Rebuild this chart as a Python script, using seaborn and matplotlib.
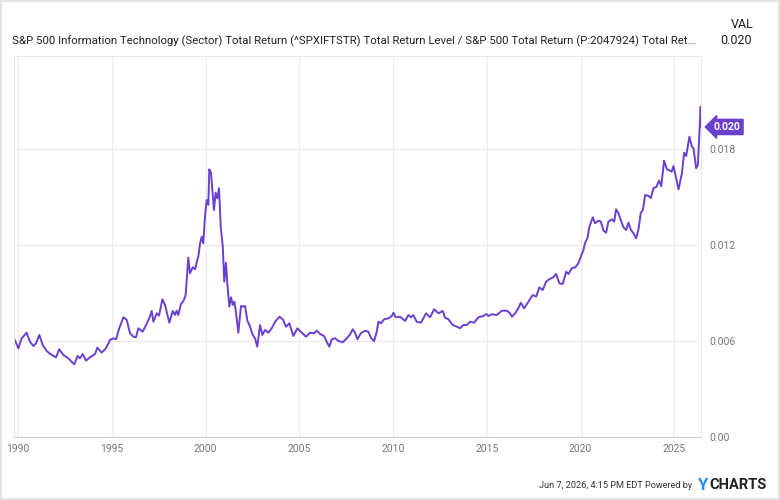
import pandas as pd
import seaborn as sns
import matplotlib.pyplot as plt
from matplotlib import transforms

# ratio IT sector TR / S&P 500 TR (x1e-3)
years = [1989.79, 1990.02, 1990.20, 1990.46, 1990.64, 1990.82, 1990.96, 1991.14, 1991.32, 1991.53,
         1991.80, 1992.03, 1992.20, 1992.42, 1992.68, 1993.00, 1993.18, 1993.31, 1993.45, 1993.63,
         1993.84, 1994.11, 1994.23, 1994.46, 1994.69, 1994.91, 1995.08, 1995.23, 1995.40, 1995.62,
         1995.80, 1995.97, 1996.15, 1996.29, 1996.42, 1996.65, 1996.83, 1997.00, 1997.13, 1997.22,
         1997.40, 1997.52, 1997.70, 1997.84, 1998.07, 1998.25, 1998.37, 1998.46, 1998.55, 1998.69,
         1998.82, 1998.94, 1999.08, 1999.17, 1999.32, 1999.44, 1999.62, 1999.71, 1999.80, 1999.88,
         1999.97, 2000.06, 2000.15, 2000.20, 2000.29, 2000.38, 2000.45, 2000.54, 2000.63, 2000.72,
         2000.81, 2000.92, 2001.00, 2001.09, 2001.16, 2001.27, 2001.36, 2001.45, 2001.54, 2001.63,
         2001.75, 2001.89, 2002.02, 2002.11, 2002.23, 2002.34, 2002.52, 2002.64, 2002.76, 2002.91,
         2003.03, 2003.17, 2003.35, 2003.53, 2003.71, 2003.94, 2004.12, 2004.29, 2004.47, 2004.68,
         2004.90, 2005.13, 2005.36, 2005.57, 2005.79, 2005.93, 2006.11, 2006.32, 2006.46, 2006.60,
         2006.73, 2006.91, 2007.08, 2007.32, 2007.53, 2007.71, 2007.85, 2007.97, 2008.10, 2008.28,
         2008.51, 2008.68, 2008.83, 2008.99, 2009.13, 2009.22, 2009.36, 2009.52, 2009.75, 2009.93,
         2010.02, 2010.14, 2010.37, 2010.64, 2010.82, 2010.96, 2011.08, 2011.26, 2011.49, 2011.76,
         2011.97, 2012.19, 2012.42, 2012.65, 2012.77, 2012.95, 2013.18, 2013.40, 2013.57, 2013.75,
         2013.93, 2014.11, 2014.32, 2014.55, 2014.82, 2014.96, 2015.08, 2015.26, 2015.53, 2015.80,
         2016.06, 2016.24, 2016.33, 2016.51, 2016.68, 2016.81, 2016.99, 2017.22, 2017.45, 2017.63,
         2017.80, 2017.98, 2018.16, 2018.34, 2018.55, 2018.69, 2018.87, 2019.05, 2019.23, 2019.35,
         2019.53, 2019.71, 2019.88, 2020.01, 2020.15, 2020.24, 2020.36, 2020.47, 2020.65, 2020.77,
         2020.95, 2021.08, 2021.22, 2021.36, 2021.48, 2021.66, 2021.79, 2021.89, 2022.02, 2022.14,
         2022.28, 2022.43, 2022.55, 2022.68, 2022.82, 2022.96, 2023.08, 2023.21, 2023.32, 2023.44,
         2023.62, 2023.74, 2023.89, 2024.04, 2024.18, 2024.30, 2024.45, 2024.60, 2024.77, 2024.86,
         2024.95, 2025.09, 2025.22, 2025.40, 2025.52, 2025.63, 2025.80, 2025.93, 2026.02, 2026.16,
         2026.25, 2026.40, 2026.43]
ratio = [6.169, 5.544, 6.169, 6.519, 5.956, 5.688, 5.856, 6.375, 5.750, 5.375,
         5.125, 4.981, 5.481, 5.125, 4.919, 4.544, 5.063, 4.919, 5.188, 4.769,
         4.981, 5.188, 5.581, 5.269, 5.544, 6.063, 6.169, 6.106, 6.794, 7.481,
         7.313, 6.500, 6.269, 6.231, 6.794, 6.581, 7.000, 7.419, 7.875, 7.206,
         7.731, 7.581, 8.606, 8.250, 7.144, 7.875, 7.625, 7.894, 7.625, 8.313,
         8.500, 8.875, 11.206, 10.231, 10.606, 10.481, 11.313, 12.106, 12.519, 12.106,
         13.769, 14.813, 14.500, 16.731, 16.519, 15.231, 14.188, 15.269, 14.919, 15.544,
         13.144, 11.894, 9.706, 10.894, 9.606, 8.144, 8.731, 8.250, 8.456, 7.731,
         6.519, 8.188, 8.144, 8.188, 7.269, 7.000, 6.375, 6.169, 5.644, 7.000,
         6.375, 6.688, 6.519, 6.794, 7.206, 7.519, 7.356, 6.894, 7.106, 6.313,
         6.794, 6.519, 6.269, 6.519, 6.481, 6.644, 6.438, 6.313, 5.956, 5.644,
         6.106, 6.169, 6.000, 5.919, 6.169, 6.419, 6.731, 6.519, 6.106, 6.481,
         6.644, 6.581, 6.169, 6.000, 6.581, 7.206, 7.106, 7.356, 7.419, 7.563,
         7.769, 7.481, 7.519, 7.250, 7.625, 7.481, 7.625, 7.206, 7.144, 7.731,
         7.481, 7.981, 7.731, 7.875, 7.456, 7.356, 7.000, 6.894, 6.794, 7.000,
         7.000, 7.206, 7.144, 7.481, 7.563, 7.688, 7.563, 7.669, 7.625, 7.894,
         7.894, 7.731, 7.519, 7.731, 8.044, 8.394, 8.044, 8.456, 8.875, 8.769,
         9.356, 9.188, 9.706, 9.875, 9.981, 10.188, 9.606, 9.563, 10.331, 10.188,
         10.544, 10.606, 10.856, 11.269, 11.688, 12.144, 12.419, 13.144, 13.731, 13.356,
         13.519, 13.456, 12.894, 12.769, 13.456, 13.606, 13.456, 14.231, 13.981, 13.563,
         13.106, 12.938, 13.394, 12.938, 12.731, 12.419, 12.938, 14.019, 14.188, 15.125,
         15.063, 14.938, 15.563, 15.625, 16.031, 15.669, 17.269, 16.731, 16.644, 16.581,
         16.938, 16.169, 15.481, 16.481, 17.769, 17.563, 18.769, 18.144, 18.044, 16.794,
         17.000, 20.644, 19.375]

xticks = [1990, 1995, 2000, 2005, 2010, 2015, 2020, 2025]
yticks = [0.0, 0.006, 0.012, 0.018]
ytick_labels = ["0.00", "0.006", "0.012", "0.018"]

title = ("S&P 500 Information Technology (Sector) Total Return (^SPXIFTSTR) Total Return Level / "
         "S&P 500 Total Return (P:2047924) Total Ret...")
last_label = "0.020"

df = pd.DataFrame({"year": years, "val": [r / 1000 for r in ratio]})

sns.set_style("white")
plt.rcParams["font.family"] = ["Roboto", "DejaVu Sans"]

purple = "#6b40cf"
fig = plt.figure(figsize=(7.8, 5), dpi=100)
fig.patch.set_edgecolor("#e4e4e4")
fig.patch.set_linewidth(1.5)
ax = fig.add_axes([0.018, 0.126, 0.881, 0.762])

sns.lineplot(data=df, x="year", y="val", ax=ax, color=purple, linewidth=1.4)

ax.set_xlim(1989.79, 2026.43)
ax.set_ylim(0, 0.02381)
ax.set_xticks(xticks)
ax.set_xticklabels([str(t) for t in xticks])
ax.set_yticks(yticks)
ax.set_yticklabels(ytick_labels)
ax.yaxis.tick_right()
ax.tick_params(axis="both", length=0, labelsize=7.5, labelcolor="#777777")
ax.tick_params(axis="y", pad=6)
ax.tick_params(axis="x", pad=5)
ax.set_xlabel("")
ax.set_ylabel("")
ax.grid(True, color="#ebebeb", linewidth=0.8)
for s in ax.spines.values():
    s.set_color("#e6e6e6")
    s.set_linewidth(0.8)
ax.spines["bottom"].set_color("#cfcfcf")

# value badge
trans = transforms.blended_transform_factory(ax.transAxes, ax.transData)
ax.text(1.018, df["val"].iloc[-1], last_label, transform=trans, ha="left", va="center",
        fontsize=7.5, fontweight="bold", color="white", clip_on=False,
        bbox=dict(boxstyle="larrow,pad=0.25", fc=purple, ec=purple))

fig.text(0.015, 0.918, title, fontsize=8.2, color="#222222", ha="left", va="center")
fig.text(0.951, 0.950, "VAL", fontsize=9, color="#222222", ha="center", va="center")
fig.text(0.964, 0.918, last_label, fontsize=9, color="#222222", ha="right", va="center")

fig.text(0.887, 0.030, "Jun 7, 2026, 4:15 PM EDT Powered by", fontsize=6.6, color="#333333",
         ha="right", va="center")
fig.text(0.893, 0.030, "Y", fontsize=12, color="#1f8fff", ha="left", va="center", fontweight="bold")
fig.text(0.910, 0.030, "CHARTS", fontsize=10.5, color="#222222", ha="left", va="center",
         fontweight="bold")

fig.savefig("out.png", dpi=100)
